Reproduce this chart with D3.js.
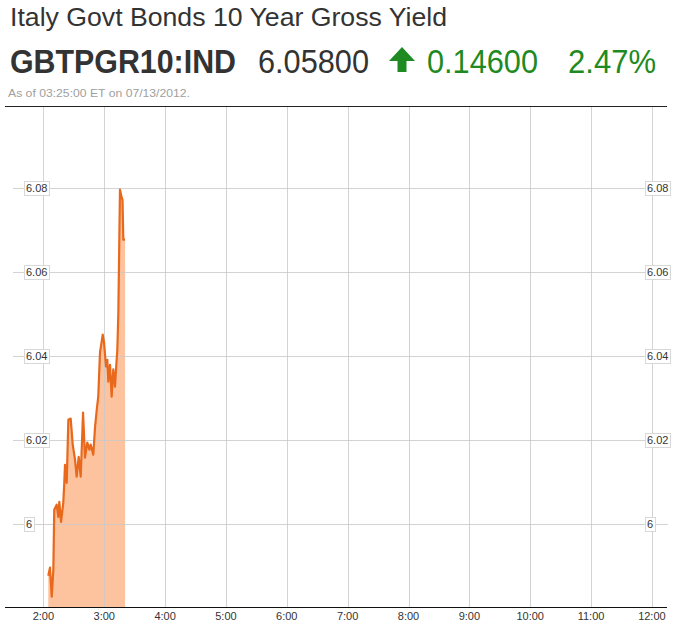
<!DOCTYPE html>
<html><head><meta charset="utf-8">
<script src="https://cdn.jsdelivr.net/npm/d3@7"></script>
<style>body{margin:0;background:#fff}svg{display:block}</style>
</head><body><svg id="c" width="677" height="626"></svg>
<script>
// ---- data ----
const times = ["02:04:48","02:06:30","02:08:12","02:09:48","02:10:42","02:13:06","02:14:42","02:15:42","02:17:24","02:19:36",
  "02:20:36","02:21:18","02:23:00","02:24:36","02:26:54","02:28:54","02:31:12","02:32:48","02:34:48","02:36:48",
  "02:39:06","02:41:00","02:43:18","02:45:18","02:46:36","02:49:12","02:50:54","02:52:36","02:54:06","02:55:48",
  "02:58:30","02:59:48","03:01:42","03:03:00","03:04:00","03:05:42","03:07:18","03:08:54","03:10:36","03:11:36",
  "03:12:54","03:13:54","03:15:30","03:17:12","03:18:00","03:18:48","03:20:30"];
const yields = [5.9877,5.9896,5.9827,5.9891,6.0034,6.0046,6.0017,6.0053,6.0005,6.0051,
  6.0098,6.0141,6.0098,6.0248,6.0251,6.0189,6.0153,6.0113,6.0160,6.0113,
  6.0265,6.0158,6.0194,6.0177,6.0189,6.0165,6.0230,6.0272,6.0303,6.0408,
  6.0451,6.0432,6.0375,6.0391,6.0339,6.0379,6.0303,6.0368,6.0327,6.0368,
  6.0415,6.0503,6.0796,6.0777,6.0772,6.0677,6.0677];
const yTicks = [6, 6.02, 6.04, 6.06, 6.08];
const yTickLabels = ["6", "6.02", "6.04", "6.06", "6.08"];
const xTickTimes = ["02:00","03:00","04:00","05:00","06:00","07:00","08:00","09:00","10:00","11:00","12:00"];
const xTickLabels = ["2:00","3:00","4:00","5:00","6:00","7:00","8:00","9:00","10:00","11:00","12:00"];
const title = "Italy Govt Bonds 10 Year Gross Yield";
const ticker = "GBTPGR10:IND";
const lastPrice = "6.05800";
const change = "0.14600";
const pctChange = "2.47%";
const asOf = "As of 03:25:00 ET on 07/13/2012.";

// ---- setup ----
const font = "Arial, 'Liberation Sans', sans-serif";
const svg = d3.select("#c");
const parseT = d3.timeParse("%H:%M:%S");
const parseHM = d3.timeParse("%H:%M");
const data = times.map((t, i) => ({t: parseT(t), v: yields[i]}));

const x = d3.scaleTime().domain([parseHM("02:00"), parseHM("12:00")]).range([43.4, 651.9]);
const y = d3.scaleLinear().domain([5.98, 6.10]).range([608, 104]);

// header
function txt(s, px, py, size, opts = {}) {
  const t = svg.append("text").attr("x", px).attr("y", py).text(s)
    .attr("font-family", font).attr("font-size", size)
    .attr("fill", opts.fill || "#333").attr("font-weight", opts.weight || "normal");
  if (opts.len) t.attr("textLength", opts.len).attr("lengthAdjust", "spacingAndGlyphs");
  return t;
}
txt(title, 10, 26, 25, {len: 437});
txt(ticker, 10, 73, 33, {weight: "bold", len: 226});
txt(lastPrice, 258, 73, 33, {len: 111});
const green = "#1f8a22";
svg.append("path").attr("d", "M389,61 L402,47 L415,61 L406.5,61 L406.5,72 L397.5,72 L397.5,61 Z").attr("fill", green);
txt(change, 427, 73, 33, {fill: green, len: 111});
txt(pctChange, 568, 73, 33, {fill: green, len: 88});
txt(asOf, 8, 97, 11, {fill: "#a0a0a0", len: 182});
svg.append("line").attr("x1", 5).attr("x2", 667).attr("y1", 106.5).attr("y2", 106.5).attr("stroke", "#222").attr("stroke-width", 1);

// area + line
const bottom = y(5.98);
svg.append("path").datum(data)
  .attr("d", d3.area().x(d => x(d.t)).y0(bottom).y1(d => y(d.v)))
  .attr("fill", "#fcaf7f").attr("fill-opacity", 0.75);

// grid
const g = svg.append("g");
g.selectAll(".vg").data(xTickTimes).join("line")
  .attr("x1", d => Math.round(x(parseHM(d))) + 0.5).attr("x2", d => Math.round(x(parseHM(d))) + 0.5)
  .attr("y1", 107).attr("y2", 607).attr("stroke", "#c8c8c8").attr("stroke-opacity", 0.8);
g.selectAll(".hg").data(yTicks).join("line")
  .attr("x1", 13).attr("x2", 668)
  .attr("y1", d => Math.round(y(d)) + 0.5).attr("y2", d => Math.round(y(d)) + 0.5)
  .attr("stroke", "#c8c8c8").attr("stroke-opacity", 0.8);

svg.append("path").datum(data)
  .attr("d", d3.line().x(d => x(d.t)).y(d => y(d.v)))
  .attr("fill", "none").attr("stroke", "#e8681c").attr("stroke-width", 2.2).attr("stroke-linejoin", "round");

// x axis
svg.append("line").attr("x1", 5).attr("x2", 667).attr("y1", 607.5).attr("y2", 607.5).attr("stroke", "#111");
svg.selectAll(".xl").data(xTickTimes).join("text")
  .attr("x", d => x(parseHM(d))).attr("y", 620).attr("text-anchor", "middle")
  .attr("font-family", font).attr("font-size", 11).attr("fill", "#333")
  .text((d, i) => xTickLabels[i]);

// y labels (boxed), left and right
function yLabels(xpos) {
  yTicks.forEach((v, i) => {
    const gg = svg.append("g");
    const r = gg.append("rect").attr("fill", "#fff").attr("stroke", "#d8d8d8");
    const t = gg.append("text").attr("x", xpos).attr("y", y(v) + 4)
      .attr("font-family", font).attr("font-size", 11).attr("fill", "#333").text(yTickLabels[i]);
    const bb = t.node().getBBox();
    r.attr("x", Math.round(bb.x - 2) + 0.5).attr("y", Math.round(y(v) - 7) + 0.5)
      .attr("width", Math.round(bb.width + 4)).attr("height", 14);
  });
}
yLabels(26);
yLabels(647);
</script></body></html>
